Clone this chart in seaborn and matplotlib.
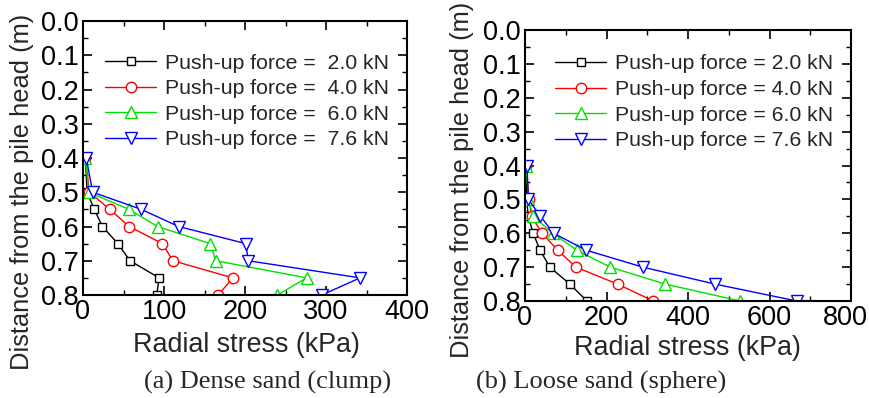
import matplotlib
matplotlib.use("Agg")
import matplotlib.pyplot as plt
import seaborn as sns
import pandas as pd
from matplotlib.ticker import MultipleLocator, FormatStrFormatter
from matplotlib.transforms import ScaledTranslation

sns.set_theme(style="ticks")
plt.rcParams['font.family'] = ['Liberation Sans', 'DejaVu Sans']

depth = [0.4, 0.5, 0.55, 0.6, 0.65, 0.7, 0.75, 0.8]

# (a) Dense sand (clump)
dense_2_0 = [3, 5, 14, 24, 43, 58, 94, 91]
dense_4_0 = [3, 8, 33, 57, 98, 111, 185, 167]
dense_6_0 = [3, 7, 57, 92, 157, 164, 276, 240]
dense_7_6 = [4, 12, 72, 118, 201, 204, 342, 295]

# (b) Loose sand (sphere)
loose_2_0 = [2, 4, 8, 20, 37, 61, 110, 152]
loose_4_0 = [3, 10, 16, 42, 80, 125, 227, 315]
loose_6_0 = [3, 8, 20, 68, 127, 209, 344, 528]
loose_7_6 = [5, 8, 38, 70, 150, 289, 466, 667]

forces = ["2.0", "4.0", "6.0", "7.6"]
colors = ["black", "#ff0000", "#00e000", "#0000ff"]
markers = ["s", "o", "^", "v"]
msizes = [5.5, 7.5, 8, 8]

fig = plt.figure(figsize=(8.69, 3.98), dpi=100)
W, H = 869, 398
axA = fig.add_axes([83 / W, 1 - 295 / H, 324 / W, 274 / H])
axB = fig.add_axes([525 / W, 1 - 301 / H, 326 / W, 271 / H])

panels = [
    (axA, [dense_2_0, dense_4_0, dense_6_0, dense_7_6], 400, 100, 50,
     "Push-up force =  {} kN", 0.935, (-0.188, 0.376), (0.503, -0.182)),
    (axB, [loose_2_0, loose_4_0, loose_6_0, loose_7_6], 800, 200, 100,
     "Push-up force = {} kN", 0.965, (-0.193, 0.446), (0.498, -0.173)),
]

for ax, series, xmax, xmaj, xmin, fmt, legy, ylc, xlc in panels:
    handles = []
    for vals, f, c, m, ms in zip(series, forces, colors, markers, msizes):
        df = pd.DataFrame({"stress": vals, "depth": depth})
        sns.lineplot(data=df, x="stress", y="depth", sort=False, estimator=None,
                     orient="y", ax=ax, color=c, marker=m, markersize=ms,
                     markerfacecolor="white", markeredgecolor=c, markeredgewidth=1.0,
                     linewidth=1.0, label=fmt.format(f), legend=False)
        handles.append(ax.lines[-1])
    ax.set_xlim(0, xmax)
    ax.set_ylim(0.8, 0.0)
    ax.xaxis.set_major_locator(MultipleLocator(xmaj))
    ax.xaxis.set_minor_locator(MultipleLocator(xmin))
    ax.yaxis.set_major_locator(MultipleLocator(0.1))
    ax.yaxis.set_minor_locator(MultipleLocator(0.05))
    ax.tick_params(which="both", direction="in", top=True, right=True,
                   labelsize=19.5, colors="black")
    ax.tick_params(which="major", length=6.5, width=1.2, pad=3)
    ax.tick_params(which="minor", length=3.5, width=1.0)
    ax.yaxis.set_major_formatter(FormatStrFormatter("%.1f"))
    for s in ax.spines.values():
        s.set_linewidth(1.5)
        s.set_color("black")
    ax.set_xlabel("Radial stress (kPa)", fontsize=19.4)
    ax.set_ylabel("Distance from the pile head (m)", fontsize=18.4)
    ax.yaxis.set_label_coords(*ylc)
    ax.xaxis.set_label_coords(*xlc)
    ax.xaxis.label.set_va("center")
    ax.yaxis.label.set_va("center")
    ax.legend(handles=handles, loc="upper right", frameon=False, fontsize=15.3,
              handlelength=2.4, handletextpad=0.4, labelspacing=0.31,
              borderaxespad=0.3, bbox_to_anchor=(0.99, legy), numpoints=1)

# nudge the last x tick label of panel (b) left so it stays inside the figure
fig.canvas.draw()
for t in axB.xaxis.get_major_ticks():
    if abs(t.get_loc() - 800) < 1e-6:
        t.label1.set_transform(t.label1.get_transform()
                               + ScaledTranslation(-6 / 100, 0, fig.dpi_scale_trans))

fig.text(268 / W, 1 - 382 / H, "(a) Dense sand (clump)", ha="center", va="center",
         fontsize=19, family=["Liberation Serif", "DejaVu Serif"])
fig.text(601 / W, 1 - 382 / H, "(b) Loose sand (sphere)", ha="center", va="center",
         fontsize=19, family=["Liberation Serif", "DejaVu Serif"])

fig.savefig("out.png", dpi=100, facecolor="white")
